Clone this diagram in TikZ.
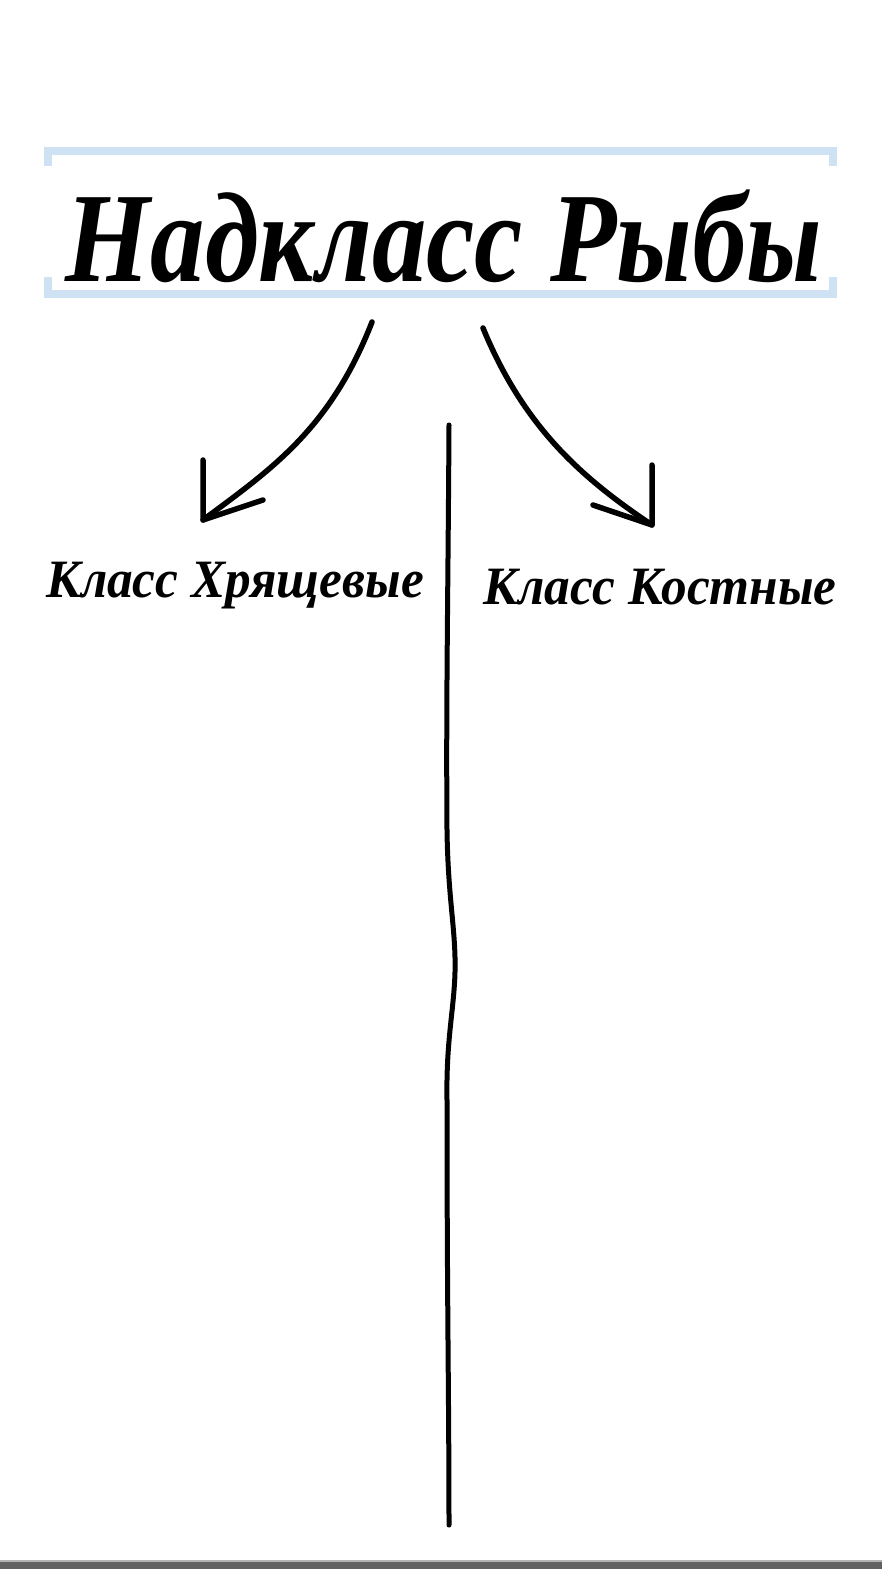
\documentclass[tikz,border=0pt]{standalone}
\usepackage{fontspec}
\setmainfont{Liberation Serif}
\usepackage{xcolor}
\usetikzlibrary{positioning,calc}
\definecolor{bracketblue}{HTML}{CFE2F3}
\definecolor{bargray}{HTML}{616161}
\tikzset{
    title/.style={font=\fontsize{128}{128}\selectfont\bfseries\itshape, inner sep=0pt, xscale=0.85},
    classlabel/.style={font=\fontsize{54}{54}\selectfont\bfseries\itshape, inner sep=0pt, xscale=0.95},
    pen/.style={line width=5.5pt, line cap=round, line join=round},
    bracket/.style={bracketblue, line width=8pt}
}

\begin{document}
\begin{tikzpicture}[x=1pt, y=-1pt]
    \useasboundingbox (0,0) rectangle (882,1569);
    \fill [white] (0,0) rectangle (882,1569);

    \node [title] (top) at (444,236) {Надкласс Рыбы};
    \node [classlabel] (cart) at (235,586) {Класс Хрящевые};
    \node [classlabel] (bone) at (660,587) {Класс Костные};

    % blue brackets round the title
    \draw [bracket] (48,166) -- (48,151) -- (833,151) -- (833,166);
    \draw [bracket] (48,277) -- (48,294) -- (833,294) -- (833,277);

    % arrows
    \coordinate (lstart) at (372,322);
    \coordinate (ltip) at (203,520);
    \coordinate (rstart) at (483,328);
    \coordinate (rtip) at (652,525);
    \draw [pen] (lstart) .. controls (330,430) and (270,470) .. (ltip);
    \draw [pen] (203,460) -- (ltip) -- (263,500);
    \draw [pen] (rstart) .. controls (525,430) and (585,480) .. (rtip);
    \draw [pen] (652,465) -- (rtip) -- (593,505);

    % dividing line
    \coordinate (dtop) at (449,425);
    \coordinate (dbot) at (449,1525);
    \draw [line width=5pt, line cap=round] (dtop) .. controls (448,600) and (446,700) .. (447,830)
        .. controls (448,900) and (456,930) .. (455,972)
        .. controls (454,1010) and (446,1040) .. (447,1100)
        .. controls (447,1300) and (449,1400) .. (dbot);

    % bar at the foot
    \fill [bargray] (0,1561) rectangle (882,1569);
    \fill [gray!60] (0,1560) rectangle (882,1561.5);
\end{tikzpicture}
\end{document}
